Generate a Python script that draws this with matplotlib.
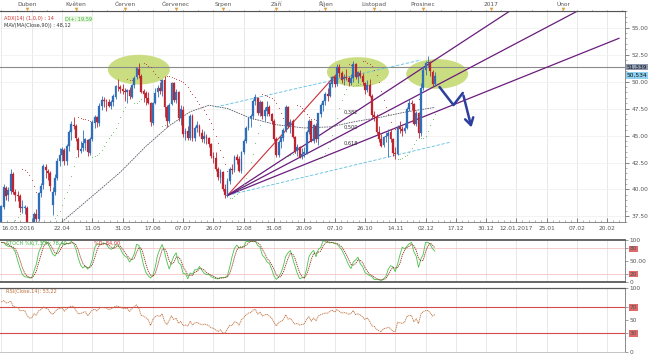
import numpy as np
import pandas as pd
import matplotlib
matplotlib.use("Agg")
import matplotlib.pyplot as plt
from matplotlib.patches import Ellipse
from matplotlib.ticker import FixedLocator, MultipleLocator

plt.rcParams['font.family'] = ['DejaVu Sans']

# ---------------- data ----------------
holidays = ['2016-03-25', '2016-05-30', '2016-07-04', '2016-09-05', '2016-11-24']
dates = pd.bdate_range('2016-03-16', '2016-12-08', freq='C', holidays=holidays)

# closes before the visible window (only used to warm up the RSI)
warmup_closes = [29.04, 30.66, 30.77, 29.64, 31.48, 31.87, 32.15, 33.07, 32.78, 33.75,
                 34.40, 34.66, 34.57, 35.92, 37.90, 36.50, 38.29, 37.84, 38.50, 37.18, 36.34]

opens = [36.35, 38.40, 40.10, 39.50, 39.90, 41.40, 39.80, 39.50, 39.40, 38.30, 38.30,
         38.30, 36.80, 35.70, 35.90, 37.70, 37.30, 39.70, 40.40, 42.10, 41.70, 41.50, 38.60, 39.80, 41.10, 42.60, 43.20, 43.70, 42.60, 44.00, 45.30, 46.00,
         45.90, 44.70, 43.60, 43.80, 44.30, 44.60, 43.40, 44.70, 46.20, 46.70, 46.20, 47.70, 48.30, 48.20, 48.10, 47.70, 48.10, 48.60, 49.50, 49.50, 49.30,
         49.10, 49.00, 49.20, 48.60, 49.70, 50.40, 51.20, 50.50, 49.10, 48.90, 48.50, 48.00, 46.20, 48.00, 49.00, 49.40, 49.10, 50.10, 47.60, 46.30, 47.90, 49.90,
         48.30, 49.00, 46.60, 47.40, 45.10, 45.40, 44.80, 46.80, 44.80, 45.70, 45.90, 45.20, 44.70, 44.90, 44.80, 44.20, 43.10, 42.90, 41.90, 41.10,
         41.60, 40.00, 39.50, 40.80, 41.90, 41.80, 43.00, 42.80, 41.70, 43.50, 44.50, 45.70, 46.60, 46.80, 48.20, 48.50, 47.10, 48.10, 46.80, 47.30, 47.60, 47.00, 46.30,
         44.70, 43.20, 44.40, 44.80, 45.50, 47.60, 45.90, 46.30, 44.90, 43.60, 43.90, 43.00, 43.30, 43.40, 45.30, 46.30, 44.50, 45.90, 44.70, 47.00, 47.80,
         48.20, 48.80, 48.70, 49.80, 50.40, 49.80, 51.30, 50.80, 50.20, 50.40, 50.30, 49.90, 50.30, 51.60, 50.40, 50.80, 50.50, 49.90, 49.20, 49.70, 48.70,
         46.90, 46.70, 45.30, 44.70, 44.10, 44.90, 45.00, 45.30, 44.70, 43.40, 43.30, 45.80, 45.60, 45.40, 45.70, 47.50, 48.00, 47.90, 46.10, 47.10, 45.20,
         49.40, 51.10, 51.70, 51.80, 50.90, 49.80]
highs = [38.60, 40.50, 40.35, 40.20, 41.90, 41.60, 40.00, 39.90, 39.60, 39.00, 38.60,
         38.50, 36.90, 36.20, 37.90, 38.20, 39.80, 40.60, 42.40, 42.40, 41.90, 41.70, 40.20, 41.40, 42.90, 43.80, 43.90, 43.80, 44.20, 45.50, 46.30, 46.70,
         46.10, 44.90, 44.50, 45.50, 44.80, 44.70, 44.90, 46.40, 46.90, 46.80, 48.00, 48.70, 48.60, 48.40, 48.40, 48.30, 48.80, 49.70, 50.20, 49.70, 49.80,
         49.40, 49.30, 49.50, 49.80, 50.50, 51.30, 51.70, 50.70, 49.30, 49.10, 49.00, 48.10, 48.10, 49.40, 49.70, 50.00, 50.20, 50.50, 47.80, 48.00, 50.00, 50.00,
         49.30, 49.10, 47.80, 47.70, 45.70, 45.90, 47.00, 47.00, 45.90, 46.30, 46.10, 45.60, 45.40, 45.10, 44.90, 44.30, 43.50, 43.50, 42.10, 41.90,
         41.70, 40.50, 41.10, 42.10, 42.40, 43.20, 43.30, 43.10, 43.60, 44.70, 45.90, 46.70, 47.00, 48.40, 48.80, 48.60, 48.30, 48.20, 47.60, 48.20, 47.80, 47.10, 46.50,
         44.90, 44.60, 45.00, 45.70, 47.80, 47.70, 46.50, 46.50, 45.00, 44.20, 44.00, 43.80, 43.90, 45.50, 46.50, 46.40, 46.10, 46.20, 47.10, 48.00, 48.30,
         49.00, 49.40, 50.00, 50.50, 50.70, 51.60, 51.60, 51.00, 50.70, 51.20, 50.50, 50.70, 51.90, 51.70, 51.00, 51.10, 50.80, 50.00, 50.10, 50.20, 48.80,
         47.30, 47.00, 45.90, 45.10, 45.00, 45.30, 45.60, 45.60, 44.80, 43.90, 46.00, 46.30, 45.90, 46.20, 47.60, 48.40, 48.30, 48.00, 47.30, 47.20, 49.90,
         51.40, 51.90, 52.40, 51.90, 51.10, 50.90]
lows = [36.20, 38.20, 39.05, 38.90, 39.60, 39.60, 38.90, 38.90, 37.90, 37.80, 37.70,
        36.40, 35.40, 35.20, 35.60, 37.00, 37.10, 39.30, 40.00, 41.10, 40.90, 39.90, 37.60, 39.50, 40.90, 42.20, 42.60, 42.30, 42.30, 43.60, 44.60, 45.60,
        44.50, 43.00, 43.40, 43.60, 43.70, 43.10, 43.20, 44.50, 45.70, 45.80, 45.90, 47.40, 47.60, 47.30, 47.60, 47.50, 47.70, 48.40, 49.10, 48.90, 48.80,
        48.20, 48.00, 48.40, 48.50, 49.40, 50.20, 50.30, 48.90, 48.10, 47.80, 47.90, 45.90, 46.00, 47.90, 48.60, 48.80, 48.70, 46.70, 45.80, 46.20, 47.80, 48.10,
        48.00, 46.30, 46.00, 44.90, 44.60, 44.60, 44.60, 44.50, 44.50, 45.30, 45.00, 44.40, 44.30, 44.20, 43.90, 42.90, 42.50, 41.70, 40.90, 40.60,
        39.90, 39.20, 39.30, 40.50, 41.40, 41.60, 42.40, 41.60, 41.50, 43.30, 44.30, 45.50, 45.80, 46.50, 47.80, 46.90, 46.80, 46.50, 46.30, 46.80, 46.80, 46.10, 44.50,
        43.00, 43.00, 43.80, 44.50, 45.30, 45.70, 45.20, 44.80, 43.40, 43.10, 42.90, 42.80, 43.00, 43.30, 45.10, 44.40, 44.30, 44.40, 44.10, 46.70, 47.30,
        47.80, 48.20, 48.60, 49.50, 49.50, 49.60, 50.40, 49.90, 49.70, 50.10, 49.60, 49.70, 50.00, 50.20, 49.90, 50.30, 49.70, 48.80, 49.00, 48.60, 46.60,
        46.30, 45.10, 44.40, 43.90, 43.90, 44.40, 43.00, 44.40, 43.10, 42.80, 43.20, 45.20, 45.00, 45.20, 45.60, 47.30, 47.40, 46.00, 45.90, 44.80, 45.00,
        49.20, 50.60, 51.30, 50.50, 49.60, 49.60]
closes = [38.46, 40.20, 39.44, 39.91, 41.45, 39.79, 39.46, 39.39, 38.28, 38.32, 38.34,
          36.79, 35.70, 35.89, 37.75, 37.26, 39.72, 40.36, 42.17, 41.76, 41.50, 40.36, 39.78, 41.08, 42.63, 43.18, 43.73, 42.64, 44.04, 45.33, 46.03, 45.92,
          44.78, 43.65, 43.78, 44.32, 44.66, 43.44, 44.66, 46.23, 46.70, 46.21, 47.72, 48.31, 48.19, 48.16, 47.75, 48.08, 48.62, 49.56, 49.48, 49.33, 49.10,
          49.01, 49.17, 48.62, 49.69, 50.36, 51.23, 50.56, 49.07, 48.88, 48.49, 48.01, 46.21, 47.98, 48.96, 49.37, 49.13, 50.11, 47.64, 46.33, 47.85, 49.88, 48.33,
          48.99, 46.60, 47.43, 45.14, 45.41, 44.76, 46.80, 44.75, 45.68, 45.95, 45.24, 44.65, 44.94, 44.75, 44.19, 43.13, 42.92, 41.92, 41.14, 41.60,
          40.06, 39.51, 40.83, 41.93, 41.80, 43.02, 42.77, 41.71, 43.49, 44.49, 45.74, 46.58, 46.79, 48.22, 48.52, 47.05, 48.10, 46.77, 47.33, 47.64, 46.98, 46.35, 44.70,
          43.16, 44.44, 44.83, 45.50, 47.62, 45.88, 46.29, 44.90, 43.58, 43.91, 43.03, 43.30, 43.44, 45.34, 46.32, 44.48, 45.93, 44.67, 47.05, 47.83, 48.24,
          48.81, 48.69, 49.83, 50.44, 49.81, 51.35, 50.79, 50.18, 50.44, 50.35, 49.94, 50.29, 51.60, 50.43, 50.85, 50.52, 49.96, 49.18, 49.72, 48.70, 46.86,
          46.67, 45.34, 44.66, 44.07, 44.89, 44.98, 45.27, 44.66, 43.41, 43.32, 45.81, 45.57, 45.42, 45.69, 47.49, 48.03, 47.96, 46.06, 47.08, 45.23, 49.44,
          51.06, 51.68, 51.79, 50.93, 49.77, 50.53]

# long moving average (date, value)
ma_dates = ['2016-04-22', '2016-05-10', '2016-05-27', '2016-06-14', '2016-06-28', '2016-07-12',
            '2016-07-22', '2016-08-03', '2016-08-17', '2016-09-01', '2016-09-20', '2016-10-05',
            '2016-10-20', '2016-11-04', '2016-11-21', '2016-12-08']
ma_vals = [37.0, 39.2, 41.6, 44.0, 45.9, 47.2, 47.8, 47.5, 46.6, 46.0, 45.7, 45.8,
           46.3, 46.7, 47.2, 47.6]

month_names = ['Duben', 'Květen', 'Červen', 'Červenec', 'Srpen', 'Září', 'Říjen',
               'Listopad', 'Prosinec', '2017', 'Únor']
month_starts = ['2016-04-01', '2016-05-01', '2016-06-01', '2016-07-01', '2016-08-01',
                '2016-09-01', '2016-10-01', '2016-11-01', '2016-12-01', '2017-01-01', '2017-02-01']

resistance = 51.339
last_price = 50.534
price_ticks = [37.5, 40.0, 42.5, 45.0, 47.5, 50.0, 52.5, 55.0]

# drawn annotations (date, price)
fan_origin = ('2016-08-03', 39.45)
fan_red_end = ('2016-10-07', 50.5)
fan_purple_ends = [('2017-01-09', 56.5), ('2017-02-07', 56.5), ('2017-02-25', 54.0)]
channel_low = [('2016-08-03', 39.45), ('2016-12-15', 44.4)]
channel_high = [('2016-07-27', 47.64), ('2016-11-30', 51.99)]
fan_labels = ['0,382', '0,500', '0,618']
fan_label_prices = [47.18, 45.79, 44.31]
arrow_path = [('2016-12-10', 49.49), ('2016-12-16', 47.82), ('2016-12-20', 48.94)]
arrow_tip = ('2016-12-24', 45.5)
ellipses = [('2016-06-09', 51.1), ('2016-10-21', 50.88), ('2016-12-09', 50.7)]

# ---------------- helpers ----------------
n = len(dates)
last = dates[-1]


def pos(d):
    d = pd.Timestamp(d)
    if d <= last:
        return int(dates.searchsorted(d))
    return n - 1 + (d - last).days


def slot_date(s):
    if s <= n - 1:
        return dates[s]
    return last + pd.Timedelta(days=s - (n - 1))


O = np.array(opens); H = np.array(highs); L = np.array(lows); C = np.array(closes)
x = np.arange(n)

W, Hh = 649, 355
fig = plt.figure(figsize=(W / 100, Hh / 100), dpi=100)
fig.patch.set_facecolor('white')


def rect(x0, y0, x1, y1):
    return [x0 / W, 1 - y1 / Hh, (x1 - x0) / W, (y1 - y0) / Hh]


XL = (-0.6, 267.6)
ax = fig.add_axes(rect(0, 11, 625, 222))
ax_top = fig.add_axes(rect(0, 0, 625, 11), sharex=ax)
ax_st = fig.add_axes(rect(0, 240, 625, 282), sharex=ax)
ax_rsi = fig.add_axes(rect(0, 288, 625, 352), sharex=ax)
ax.set_xlim(*XL)
ax.set_ylim(36.99, 56.53)

grid_c = '#e4e4e4'
axis_c = '#777777'
lab_c = '#555555'
fs = 4.2

# date ticks
tick_slots = list(range(0, 262, 13))
tick_labels = []
prev_year = None
for s in tick_slots:
    d = slot_date(s)
    if prev_year is None or d.year != prev_year:
        tick_labels.append(d.strftime('%d.%m.%Y'))
    else:
        tick_labels.append(d.strftime('%d.%m'))
    prev_year = d.year
tick_labels[1] = ''

for a in (ax, ax_st, ax_rsi):
    for s in tick_slots:
        a.axvline(s, color=grid_c, lw=0.6, zorder=0)

for p in price_ticks:
    ax.axhline(p, color='#efefef', lw=0.5, zorder=0)

# ellipses
for d, p in ellipses:
    ax.add_patch(Ellipse((pos(d), p), 26.6, 2.75, facecolor='#c8dc7a', edgecolor='none',
                         alpha=0.95, zorder=1))

# resistance line
ax.axhline(resistance, color='#8a8a8a', lw=0.8, zorder=2)

# moving average
ax.plot([pos(d) for d in ma_dates], ma_vals, color='#5a5a6a', lw=0.6, ls=(0, (2, 1)), zorder=2)

# channel lines
for seg in (channel_low, channel_high):
    ax.plot([pos(seg[0][0]), pos(seg[1][0])], [seg[0][1], seg[1][1]], color='#5bbfe0',
            lw=0.6, ls=(0, (4, 2)), zorder=2)

# fan
ox, oy = pos(fan_origin[0]), fan_origin[1]
ax.plot([ox, pos(fan_red_end[0])], [oy, fan_red_end[1]], color='#c8303a', lw=0.8, zorder=3)
for d, p in fan_purple_ends:
    ax.plot([ox, pos(d)], [oy, p], color='#6a1d7c', lw=0.9, zorder=3)
for t, p in zip(fan_labels, fan_label_prices):
    ax.text(pos('2016-10-13'), p, t, fontsize=3.6, color='#333333', ha='left', va='center', zorder=4)

# candles
up = C >= O
body_lo = np.minimum(O, C)
body_h = np.maximum(np.abs(C - O), 0.05)
cols = np.where(up, '#2f6fb8', '#be2430')
ax.vlines(x, L, H, colors=cols, lw=0.6, zorder=5)
ax.bar(x, body_h, bottom=body_lo, width=0.78, color=cols, edgecolor=cols, lw=0.2, zorder=6)

# parabolic SAR
sar = np.zeros(n)
bull = np.zeros(n, dtype=bool)
b = True; af = 0.02; ep = H[0]; sar[0] = L[0]; bull[0] = True
for i in range(1, n):
    s = sar[i - 1] + af * (ep - sar[i - 1])
    if b:
        s = min(s, L[i - 1], L[max(i - 2, 0)])
        if L[i] < s:
            b = False; s = ep; ep = L[i]; af = 0.02
        elif H[i] > ep:
            ep = H[i]; af = min(af + 0.02, 0.2)
    else:
        s = max(s, H[i - 1], H[max(i - 2, 0)])
        if H[i] > s:
            b = True; s = ep; ep = H[i]; af = 0.02
        elif L[i] < ep:
            ep = L[i]; af = min(af + 0.02, 0.2)
    sar[i] = s; bull[i] = b
ax.scatter(x[bull], sar[bull], s=0.6, color='#6bbf6b', zorder=4, linewidths=0)
ax.scatter(x[~bull], sar[~bull], s=0.6, color='#c04040', zorder=4, linewidths=0)

# big arrow
pts = [(pos(d), p) for d, p in arrow_path]
ax.plot([p[0] for p in pts], [p[1] for p in pts], color='#2d3f9e', lw=1.8, zorder=7,
        solid_capstyle='round', solid_joinstyle='round')
ax.annotate('', xy=(pos(arrow_tip[0]), arrow_tip[1]), xytext=pts[-1],
            arrowprops=dict(arrowstyle='->,head_length=0.5,head_width=0.3', color='#2d3f9e', lw=1.8),
            zorder=7)

# main axes styling
ax.yaxis.tick_right()
ax.set_yticks(price_ticks)
ax.set_yticklabels([f'{p:.2f}' for p in price_ticks])
ax.yaxis.set_minor_locator(MultipleLocator(0.5))
ax.tick_params(axis='y', which='major', labelsize=fs, colors=lab_c, length=3, width=0.5, pad=1.5)
ax.tick_params(axis='y', which='minor', length=1.5, width=0.4, colors=axis_c)
ax.xaxis.set_major_locator(FixedLocator(tick_slots))
ax.set_xticklabels(tick_labels)
ax.xaxis.set_minor_locator(MultipleLocator(13 / 5))
ax.tick_params(axis='x', which='major', labelsize=fs, colors=lab_c, length=3, width=0.5, pad=3, direction='in')
ax.tick_params(axis='x', which='minor', length=1.5, width=0.4, colors=axis_c, direction='in')
lbls = ax.get_xticklabels()
lbls[0].set_ha('left')
ax.spines['left'].set_visible(False)
ax.spines['top'].set_color('#555555'); ax.spines['top'].set_linewidth(0.8)
ax.spines['right'].set_color(axis_c); ax.spines['right'].set_linewidth(0.6)
ax.spines['bottom'].set_color(axis_c); ax.spines['bottom'].set_linewidth(0.6)
ax.set_facecolor('white')

# price boxes
trans = ax.get_yaxis_transform()
ax.text(1.003, resistance, '51,339', transform=trans, fontsize=fs, color='#111111', va='center', ha='left',
        bbox=dict(boxstyle='square,pad=0.15', fc='#8d99b0', ec='none'), zorder=10)
ax.text(1.003, last_price, '50,534', transform=trans, fontsize=fs, color='#111111', va='center', ha='left',
        bbox=dict(boxstyle='square,pad=0.15', fc='#8fd3f2', ec='none'), zorder=10)

# info texts
ax.text(0.006, 0.975, 'ADX(14) (1,0,0) : 14', transform=ax.transAxes, fontsize=3.6, color='#d03030', va='top')
ax.text(0.104, 0.975, 'DI+: 19,59', transform=ax.transAxes, fontsize=3.6, color='#40b040', va='top',
        bbox=dict(boxstyle='square,pad=0.1', fc='#e8f8e0', ec='none'))
ax.text(0.006, 0.945, 'MAV(MA(Close,90)) : 48,12', transform=ax.transAxes, fontsize=3.6, color='#333333', va='top')

# top strip
ax_top.set_ylim(0, 1)
for sp in ('left', 'right', 'top'):
    ax_top.spines[sp].set_visible(False)
ax_top.spines['bottom'].set_color('#555555'); ax_top.spines['bottom'].set_linewidth(0.8)
ax_top.tick_params(axis='x', which='both', bottom=False, labelbottom=False)
ax_top.tick_params(axis='y', left=False, labelleft=False)
for nm, d in zip(month_names, month_starts):
    px = pos(d)
    ax_top.text(px, 0.62, nm, fontsize=4.2, color=lab_c, ha='center', va='center')
    ax_top.plot([px], [0.22], marker='v', ms=2.6, color='#e0a040', mec='none')
for s in np.arange(0, 268, 6.5):
    ax_top.plot([s, s], [0, 0.12], color=axis_c, lw=0.4)

# stochastic
k_period = 7
hh = pd.Series(H).rolling(k_period, min_periods=1).max()
ll = pd.Series(L).rolling(k_period, min_periods=1).min()
fast_k = 100 * (pd.Series(C) - ll) / (hh - ll)
slow_k = fast_k.rolling(3, min_periods=1).mean()
slow_d = slow_k.rolling(3, min_periods=1).mean()
ax_st.set_ylim(0, 100)
ax_st.axhline(80, color='#f2b8b8', lw=0.5)
ax_st.axhline(20, color='#f2b8b8', lw=0.5)
ax_st.plot(x, slow_k, color='#4cc04c', lw=0.6)
ax_st.plot(x, slow_d, color='#8b2a1a', lw=0.6, ls=(0, (1.5, 1)))
ax_st.yaxis.tick_right()
ax_st.set_yticks([0, 20, 50, 80, 100])
ax_st.set_yticklabels(['0', '20', '50.00', '80', '100'])
ax_st.tick_params(axis='y', labelsize=fs, colors=lab_c, length=2, width=0.4, pad=1.5)
ax_st.tick_params(axis='x', which='both', bottom=False, labelbottom=False)
ax_st.yaxis.set_minor_locator(MultipleLocator(10))
ax_st.tick_params(axis='y', which='minor', length=1, width=0.3)
for sp in ('top', 'bottom'):
    ax_st.spines[sp].set_color('#5a5a5a'); ax_st.spines[sp].set_linewidth(1.3)
ax_st.spines['left'].set_visible(False)
ax_st.spines['right'].set_color(axis_c); ax_st.spines['right'].set_linewidth(0.6)
for lab in ax_st.get_yticklabels():
    if lab.get_text() in ('20', '80'):
        lab.set_bbox(dict(boxstyle='square,pad=0.15', fc='#e06a6a', ec='none'))
ax_st.text(0.01, 0.98, 'STOCH %K(7,3,3): 78,40', transform=ax_st.transAxes, fontsize=3.6,
           color='#40b040', va='top')
ax_st.text(0.15, 0.98, '%D: 84,00', transform=ax_st.transAxes, fontsize=3.6, color='#d03030', va='top')

# RSI (warm-up closes precede the visible window)
all_closes = pd.Series(warmup_closes + closes)
delta = all_closes.diff()
gain = delta.clip(lower=0).ewm(alpha=1 / 14, adjust=False).mean()
loss = (-delta.clip(upper=0)).ewm(alpha=1 / 14, adjust=False).mean()
rsi = (100 - 100 / (1 + gain / loss)).to_numpy()[len(warmup_closes):]
ax_rsi.set_ylim(0, 100)
ax_rsi.axhline(70, color='#d44a4a', lw=0.8)
ax_rsi.axhline(30, color='#d44a4a', lw=0.8)
ax_rsi.plot(x, rsi, color='#c0703a', lw=0.6, ls=(0, (1.5, 0.8)))
ax_rsi.yaxis.tick_right()
ax_rsi.set_yticks([0, 30, 50, 70, 100])
ax_rsi.tick_params(axis='y', labelsize=fs, colors=lab_c, length=2, width=0.4, pad=1.5)
ax_rsi.tick_params(axis='x', which='both', bottom=False, labelbottom=False)
ax_rsi.yaxis.set_minor_locator(MultipleLocator(10))
ax_rsi.tick_params(axis='y', which='minor', length=1, width=0.3)
ax_rsi.spines['top'].set_color('#5a5a5a'); ax_rsi.spines['top'].set_linewidth(0.9)
ax_rsi.spines['bottom'].set_color('#bbbbbb'); ax_rsi.spines['bottom'].set_linewidth(0.6)
ax_rsi.spines['left'].set_visible(False)
ax_rsi.spines['right'].set_color(axis_c); ax_rsi.spines['right'].set_linewidth(0.6)
for lab in ax_rsi.get_yticklabels():
    if lab.get_text() in ('30', '70'):
        lab.set_bbox(dict(boxstyle='square,pad=0.15', fc='#e06a6a', ec='none'))
ax_rsi.text(0.01, 0.985, 'RSI(Close,14): 53,22', transform=ax_rsi.transAxes, fontsize=3.6,
            color='#c0703a', va='top')

ax.set_xlim(*XL)
fig.savefig('out.png', dpi=100, facecolor='white')
